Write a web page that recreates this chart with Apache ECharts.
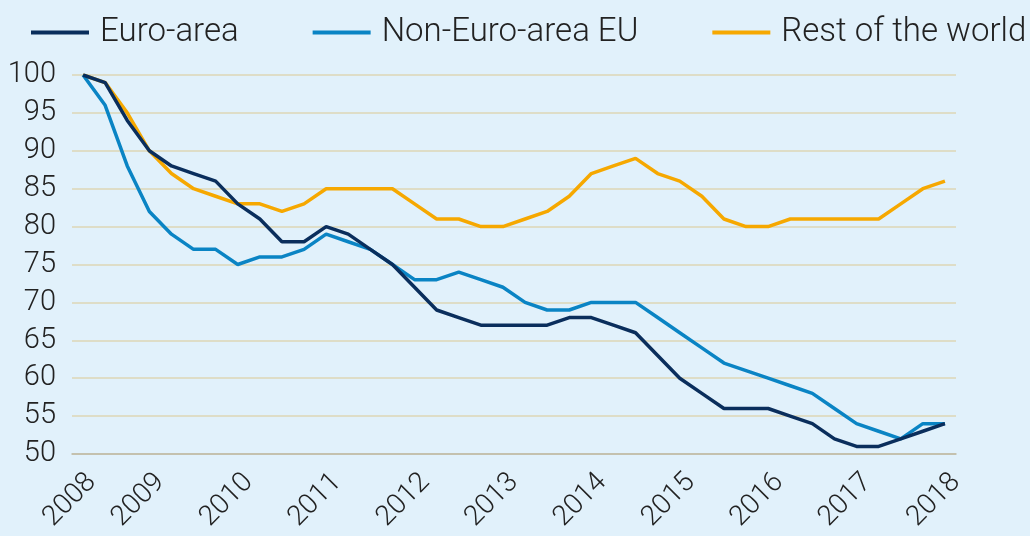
<!DOCTYPE html>
<html>
<head>
<meta charset="utf-8">
<style>
  html, body { margin: 0; padding: 0; background: #e1f1fb; }
  #chart { width: 1030px; height: 536px; }
</style>
<script src="https://cdn.jsdelivr.net/npm/echarts@6/dist/echarts.min.js"></script>
</head>
<body>
<div id="chart"></div>
<script>
// quarterly index, 2008Q1 = 100
const years = ['2008', '2009', '2010', '2011', '2012', '2013', '2014', '2015', '2016', '2017', '2018']
const quarters = []
years.slice(0, 10).forEach(y => { for (let q = 1; q <= 4; q++) quarters.push(y + 'Q' + q) })

const euroArea = [100, 99, 94, 90, 88, 87, 86, 83, 81, 78, 78, 80, 79, 77, 75, 72, 69, 68, 67, 67,
  67, 67, 68, 68, 67, 66, 63, 60, 58, 56, 56, 56, 55, 54, 52, 51, 51, 52, 53, 54]
const nonEuroEU = [100, 96, 88, 82, 79, 77, 77, 75, 76, 76, 77, 79, 78, 77, 75, 73, 73, 74, 73, 72,
  70, 69, 69, 70, 70, 70, 68, 66, 64, 62, 61, 60, 59, 58, 56, 54, 53, 52, 54, 54]
const restOfWorld = [100, 99, 95, 90, 87, 85, 84, 83, 83, 82, 83, 85, 85, 85, 85, 83, 81, 81, 80, 80,
  81, 82, 84, 87, 88, 89, 87, 86, 84, 81, 80, 80, 81, 81, 81, 81, 81, 83, 85, 86]

const seriesNames = ['Euro-area', 'Non-Euro-area EU', 'Rest of the world']
const colors = ['#0a2e5c', '#0a84c4', '#f6a800']

// each quarter sits in the middle of its band, year labels on the band edges
const toPoints = arr => arr.map((v, i) => [i + 0.5, v])
const yearTicks = years.map((y, i) => i * 4)
yearTicks[0] = 0.9

const chart = echarts.init(document.getElementById('chart'))

const font = 'Roboto, "DejaVu Sans", sans-serif'

chart.setOption({
  backgroundColor: '#e1f1fb',
  animation: false,
  legend: {
    left: 31,
    top: 16,
    width: 1200,
    padding: 0,
    icon: 'rect',
    itemWidth: 58,
    itemHeight: 4,
    itemGap: 74,
    textStyle: { fontFamily: font, fontSize: 33, fontWeight: 300, color: '#222', padding: [0, 0, 0, 6] },
    data: seriesNames
  },
  grid: { left: 72, right: 74, top: 75, bottom: 82 },
  xAxis: {
    type: 'value',
    min: 0,
    max: quarters.length,
    axisLine: { show: true, onZero: false, lineStyle: { color: '#bcb8a6', width: 1.5 } },
    axisTick: { show: false },
    splitLine: { show: false },
    axisLabel: {
      customValues: yearTicks,
      rotate: 45,
      margin: 24,
      fontFamily: font,
      fontSize: 28,
      fontWeight: 300,
      color: '#222',
      formatter: v => years[Math.round(v / 4)]
    }
  },
  yAxis: {
    type: 'value',
    min: 50,
    max: 100,
    interval: 5,
    axisLine: { show: false },
    axisTick: { show: false },
    splitLine: { lineStyle: { color: '#ddd6b6', width: 1.5 } },
    axisLabel: { margin: 16, fontFamily: font, fontSize: 29, fontWeight: 300, color: '#222' }
  },
  series: [euroArea, nonEuroEU, restOfWorld].map((arr, k) => ({
    name: seriesNames[k],
    type: 'line',
    data: toPoints(arr),
    showSymbol: false,
    symbol: 'none',
    itemStyle: { color: colors[k] },
    lineStyle: { width: 3.5, color: colors[k] },
    z: 5 - k
  }))
})
</script>
</body>
</html>
